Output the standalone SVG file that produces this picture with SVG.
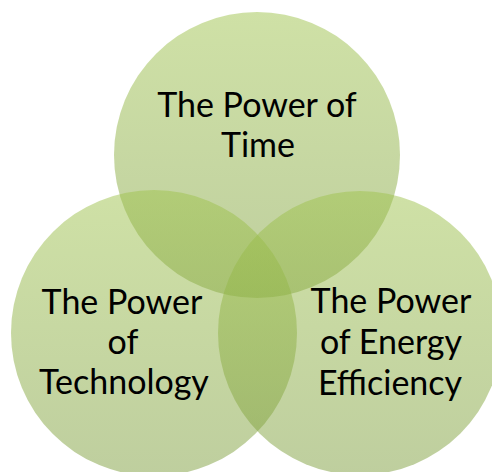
<svg xmlns="http://www.w3.org/2000/svg" width="492" height="472" viewBox="0 0 492 472">
  <defs>
    <linearGradient id="g" x1="0" y1="0" x2="0" y2="1">
      <stop offset="0" stop-color="rgb(159,195,77)"/>
      <stop offset="1" stop-color="rgb(126,158,62)"/>
    </linearGradient>
    <style>
      .c { fill: url(#g); fill-opacity: 0.5; }
      .t { font-family: Lato, "Open Sans", sans-serif; font-size: 34px; fill: #000; text-anchor: middle; }
    </style>
  </defs>
  <rect width="492" height="472" fill="#fff"/>
  <g id="time">
    <circle class="c" cx="257" cy="155" r="143"/>
  </g>
  <g id="technology">
    <circle class="c" cx="154" cy="333" r="143"/>
  </g>
  <g id="energy">
    <circle class="c" cx="360" cy="333" r="142"/>
  </g>
  <g id="connectors"/>
  <g id="labels">
    <text class="t" x="257" y="117">The Power of</text>
    <text class="t" x="258" y="157">Time</text>
    <text class="t" x="122" y="314">The Power</text>
    <text class="t" x="123" y="354">of</text>
    <text class="t" x="124" y="394">Technology</text>
    <text class="t" x="391" y="313">The Power</text>
    <text class="t" x="391" y="354">of Energy</text>
    <text class="t" x="390" y="395">Efficiency</text>
  </g>
</svg>
